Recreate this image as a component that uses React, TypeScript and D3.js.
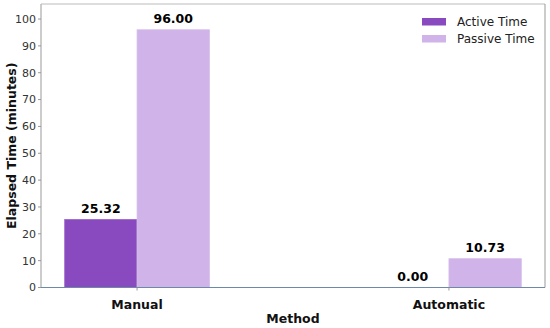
import React from "react";
import * as d3 from "d3";

const categories = ["Manual", "Automatic"];
const seriesNames = ["Active Time", "Passive Time"];
const activeValues = [25.32, 0.0];
const passiveValues = [96.0, 10.73];
const yTicks = [0, 10, 20, 30, 40, 50, 60, 70, 80, 90, 100];
const colors = ["#8a4abf", "#d0b3e8"];

export default function App() {
  const W = 550, H = 328;
  const left = 41, right = 545, top = 4, bottom = 287.5;
  const x = d3.scaleLinear().domain([-0.308, 1.308]).range([left, right]);
  const y = d3.scaleLinear().domain([0, 105.6]).range([bottom, top]);
  const bw = 0.232;
  const font = "DejaVu Sans, sans-serif";
  const series = [activeValues, passiveValues];
  return (
    <div style={{ position: "absolute", left: 0, top: 0 }}>
      <svg width={W} height={H} style={{ display: "block" }} fontFamily={font}>
        <rect width={W} height={H} fill="#fff" />
        {series.map((vals, s) =>
          vals.map((v, i) => {
            const x0 = x(i + (s === 0 ? -bw : 0));
            const x1 = x(i + (s === 0 ? 0 : bw));
            return (
              <g key={`${s}-${i}`}>
                <rect x={x0} y={y(v)} width={x1 - x0} height={bottom - y(v)} fill={colors[s]}
                  stroke={s === 0 ? "#9a63c8" : "#d6bdec"} strokeWidth={0.8} />
                <text x={(x0 + x1) / 2} y={y(v) - 7} textAnchor="middle" fontSize={12.5}
                  fontWeight="bold" fill="#000">{v.toFixed(2)}</text>
              </g>
            );
          })
        )}
        {/* spines */}
        <line x1={left} x2={left} y1={top} y2={bottom} stroke="#999" strokeWidth={1} />
        <line x1={left} x2={right} y1={top} y2={top} stroke="#bbb" strokeWidth={1} />
        <line x1={right} x2={right} y1={top} y2={bottom} stroke="#999" strokeWidth={1} />
        <line x1={left} x2={right} y1={bottom} y2={bottom} stroke="#6e88a8" strokeWidth={1} />
        {yTicks.map((t) => (
          <g key={t}>
            <line x1={left - 3} x2={left} y1={y(t)} y2={y(t)} stroke="#999" />
            <text x={left - 5} y={y(t)} dy="0.35em" textAnchor="end" fontSize={11} fill="#333">{t}</text>
          </g>
        ))}
        {categories.map((c, i) => (
          <g key={c}>
            <line x1={x(i)} x2={x(i)} y1={bottom} y2={bottom + 3} stroke="#999" />
            <text x={x(i)} y={bottom + 17} dy="0.35em" textAnchor="middle" fontSize={12.5} fontWeight="bold" fill="#111">{c}</text>
          </g>
        ))}
        <text x={(left + right) / 2} y={319} dy="0.35em" textAnchor="middle" fontSize={12.5} fontWeight="bold" fill="#111">Method</text>
        <text transform={`translate(12,${(top + bottom) / 2}) rotate(-90)`} dy="0.35em" textAnchor="middle" fontSize={12.5} fontWeight="bold" fill="#111">Elapsed Time (minutes)</text>
        {seriesNames.map((n, i) => (
          <g key={n}>
            <rect x={422} y={18 + i * 17} width={24} height={7.5} fill={colors[i]} />
            <text x={457} y={21.7 + i * 17} dy="0.35em" fontSize={12} fill="#222">{n}</text>
          </g>
        ))}
      </svg>
    </div>
  );
}
